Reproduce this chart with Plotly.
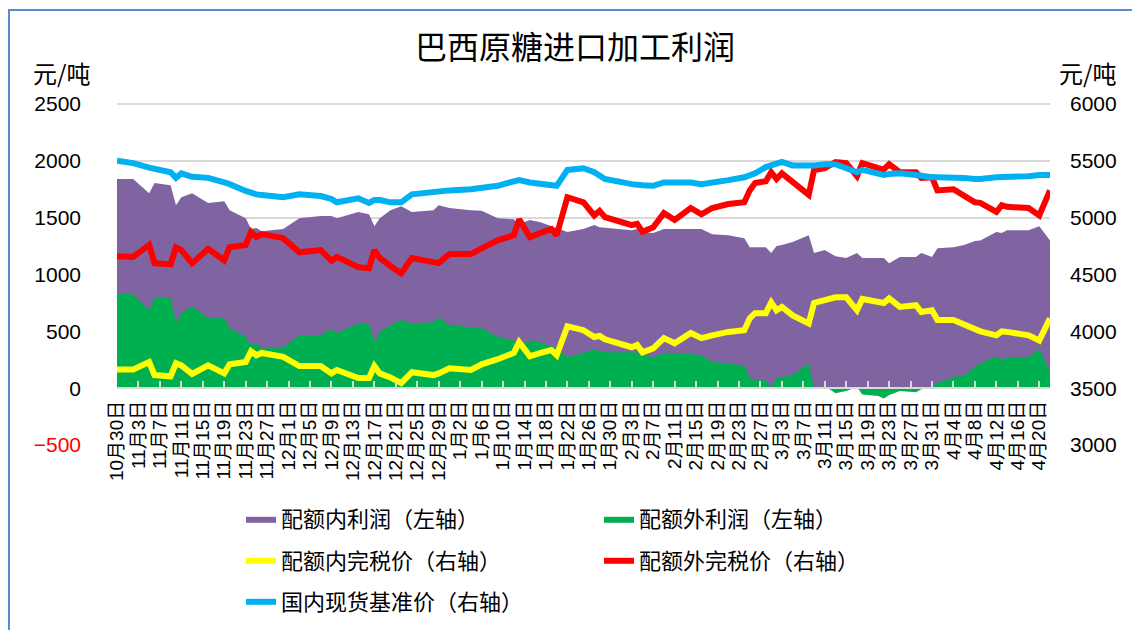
import plotly.graph_objects as go

# ---------------- data ----------------
dates = [
    "2018-10-30", "2018-11-02", "2018-11-05", "2018-11-06", "2018-11-09", "2018-11-10",
    "2018-11-11", "2018-11-13", "2018-11-16", "2018-11-19", "2018-11-20", "2018-11-23",
    "2018-11-24", "2018-11-25", "2018-11-26", "2018-11-30", "2018-12-03", "2018-12-07",
    "2018-12-09", "2018-12-10", "2018-12-14", "2018-12-16", "2018-12-17", "2018-12-18",
    "2018-12-20", "2018-12-22", "2018-12-24", "2018-12-28", "2018-12-29", "2018-12-31",
    "2019-01-04", "2019-01-06", "2019-01-09", "2019-01-12", "2019-01-13", "2019-01-15",
    "2019-01-17", "2019-01-19", "2019-01-20", "2019-01-22", "2019-01-25", "2019-01-27",
    "2019-01-28", "2019-01-29", "2019-02-03", "2019-02-04", "2019-02-05", "2019-02-07",
    "2019-02-09", "2019-02-11", "2019-02-14", "2019-02-16", "2019-02-18", "2019-02-21",
    "2019-02-24", "2019-02-25", "2019-02-26", "2019-02-28", "2019-03-01", "2019-03-02",
    "2019-03-03", "2019-03-05", "2019-03-08", "2019-03-09", "2019-03-11", "2019-03-13",
    "2019-03-15", "2019-03-17", "2019-03-18", "2019-03-21", "2019-03-22", "2019-03-23",
    "2019-03-25", "2019-03-28", "2019-03-29", "2019-03-31", "2019-04-01", "2019-04-04",
    "2019-04-06", "2019-04-08", "2019-04-09", "2019-04-12", "2019-04-13", "2019-04-14",
    "2019-04-18", "2019-04-20", "2019-04-22",
]

# 配额内利润（左轴）
in_quota_profit = [
    1840, 1840, 1715, 1805, 1785, 1610, 1680, 1715, 1630, 1645, 1565, 1495,
    1400, 1410, 1380, 1400, 1495, 1515, 1515, 1495, 1550, 1530, 1425, 1495,
    1565, 1600, 1550, 1565, 1610, 1585, 1565, 1560, 1495, 1485, 1445, 1480,
    1460, 1425, 1410, 1375, 1400, 1435, 1415, 1410, 1390, 1400, 1375, 1365,
    1400, 1400, 1400, 1400, 1355, 1345, 1320, 1240, 1240, 1240, 1190, 1250,
    1260, 1285, 1345, 1190, 1215, 1160, 1145, 1190, 1145, 1145, 1145, 1100,
    1155, 1155, 1190, 1155, 1230, 1240, 1260, 1295, 1300, 1375, 1365, 1390,
    1390, 1425, 1300,
]

# 配额外利润（左轴）
out_quota_profit = [
    835, 825, 685, 800, 790, 580, 660, 720, 615, 615, 530, 450,
    380, 395, 350, 360, 465, 465, 520, 485, 570, 570, 405, 495,
    555, 600, 570, 580, 625, 555, 535, 530, 450, 420, 380, 420,
    405, 370, 350, 275, 310, 345, 325, 315, 315, 315, 290, 275,
    310, 310, 300, 290, 230, 220, 195, 90, 70, 70, 0, 95,
    95, 115, 220, 0, 20, -45, -25, 10, -55, -70, -90, -60,
    -25, -35, -10, 0, 45, 95, 115, 185, 220, 280, 245, 275,
    275, 345, 140,
]

# 配额内完税价（右轴）
in_quota_price = [
    3665, 3665, 3730, 3615, 3605, 3720, 3700, 3625, 3700, 3630, 3710, 3730,
    3825, 3790, 3810, 3775, 3695, 3695, 3630, 3660, 3590, 3590, 3695, 3630,
    3595, 3545, 3640, 3615, 3630, 3675, 3660, 3710, 3755, 3810, 3905, 3780,
    3810, 3835, 3790, 4045, 4010, 3950, 3960, 3930, 3860, 3880, 3815, 3850,
    3940, 3895, 3985, 3940, 3965, 3995, 4010, 4115, 4160, 4160, 4255, 4185,
    4215, 4140, 4070, 4250, 4275, 4300, 4300, 4185, 4285, 4250, 4250, 4290,
    4215, 4230, 4170, 4185, 4100, 4100, 4055, 4010, 4000, 3965, 4000, 3995,
    3965, 3920, 4115,
]

# 配额外完税价（右轴）
out_quota_price = [
    4660, 4655, 4760, 4600, 4590, 4740, 4715, 4600, 4725, 4625, 4740, 4760,
    4875, 4830, 4855, 4820, 4695, 4715, 4620, 4655, 4565, 4555, 4715, 4645,
    4575, 4510, 4645, 4610, 4600, 4680, 4680, 4730, 4800, 4845, 4985, 4830,
    4865, 4900, 4845, 5180, 5135, 5020, 5060, 5005, 4935, 4945, 4875, 4915,
    5040, 4980, 5085, 5030, 5085, 5120, 5135, 5240, 5305, 5320, 5400, 5340,
    5390, 5315, 5200, 5420, 5435, 5490, 5480, 5365, 5480, 5435, 5425, 5470,
    5400, 5400, 5350, 5355, 5240, 5250, 5190, 5135, 5130, 5050, 5110, 5095,
    5085, 5020, 5240,
]

# 国内现货基准价（右轴）
spot_price = [
    5500, 5480, 5440, 5430, 5400, 5350, 5390, 5360, 5350, 5310, 5295, 5235,
    5215, 5205, 5200, 5180, 5205, 5190, 5165, 5135, 5170, 5130, 5155, 5155,
    5135, 5135, 5205, 5225, 5240, 5240, 5250, 5260, 5280, 5320, 5330, 5310,
    5295, 5280, 5280, 5420, 5435, 5400, 5375, 5340, 5295, 5285, 5285, 5280,
    5310, 5310, 5310, 5295, 5305, 5330, 5355, 5375, 5390, 5445, 5460, 5470,
    5490, 5460, 5455, 5460, 5470, 5470, 5435, 5400, 5420, 5385, 5375, 5385,
    5390, 5375, 5365, 5355, 5355, 5355, 5350, 5340, 5340, 5355, 5355, 5355,
    5365, 5375, 5375,
]

series_names = [
    "配额内利润（左轴）", "配额外利润（左轴）",
    "配额内完税价（右轴）", "配额外完税价（右轴）", "国内现货基准价（右轴）",
]
left_ticks = [-500, 0, 500, 1000, 1500, 2000, 2500]
right_ticks = [3000, 3500, 4000, 4500, 5000, 5500, 6000]
title_text = "巴西原糖进口加工利润"
unit_text = "元/吨"

for s in (in_quota_profit, out_quota_profit, in_quota_price, out_quota_price, spot_price):
    assert len(s) == len(dates), (len(s), len(dates))

# ---------------- styling ----------------
PURPLE, GREEN, YELLOW, RED, BLUE = "#8064A2", "#00B050", "#FFFF00", "#FF0000", "#00B0F0"
GRID = "#D9D9D9"
NUM_FONT = "Liberation Sans, Arial, Noto Sans CJK SC"
CJK_FONT = "Noto Sans CJK SC, Liberation Sans"

# the page body has an 8px margin, so the figure is laid out in screen px minus 8
OFF = 8
W, H = 1140 - OFF, 630 - OFF
TOP_PX = 3                                  # headroom above the 2500 gridline so it is drawn
PLOT_L, PLOT_R, PLOT_T, PLOT_B = 117, 1050, 104 - TOP_PX, 445   # screen pixels
UNITS_PER_PX = (left_ticks[-1] - left_ticks[0]) / (445 - 104)
TOP_PAD = TOP_PX * UNITS_PER_PX
ML, MR, MT, MB = PLOT_L - OFF, W - (PLOT_R - OFF), PLOT_T - OFF, H - (PLOT_B - OFF)
PW, PH = W - ML - MR, H - MT - MB


def px_x(px):  # screen px -> paper x
    return (px - OFF - ML) / PW


def px_y(py):  # screen px -> paper y
    return (H - MB - (py - OFF)) / PH


def cx(px):    # screen px -> container x
    return (px - OFF) / W


def cy(py):    # screen px -> container y
    return 1 - (py - OFF) / H


fig = go.Figure()
fig.add_trace(go.Scatter(x=dates, y=in_quota_profit, name=series_names[0], mode="lines",
                         fill="tozeroy", fillcolor=PURPLE, line=dict(width=0, color=PURPLE),
                         legend="legend"))
fig.add_trace(go.Scatter(x=dates, y=out_quota_profit, name=series_names[1], mode="lines",
                         fill="tozeroy", fillcolor=GREEN, line=dict(width=0, color=GREEN),
                         legend="legend"))
fig.add_trace(go.Scatter(x=dates, y=in_quota_price, name=series_names[2], mode="lines",
                         line=dict(width=6, color=YELLOW), yaxis="y2", legend="legend2"))
fig.add_trace(go.Scatter(x=dates, y=out_quota_price, name=series_names[3], mode="lines",
                         line=dict(width=6, color=RED), yaxis="y2", legend="legend2"))
fig.add_trace(go.Scatter(x=dates, y=spot_price, name=series_names[4], mode="lines",
                         line=dict(width=6, color=BLUE), yaxis="y2", legend="legend3"))

left_text = [("<span style='color:#FF0000'>−500</span>" if v < 0 else str(v)) for v in left_ticks]

legend_common = dict(orientation="h", xref="container", yref="container",
                     xanchor="left", yanchor="middle", bgcolor="rgba(0,0,0,0)",
                     font=dict(family=CJK_FONT, size=22, color="#000000"),
                     entrywidthmode="pixels", entrywidth=313, itemwidth=30)

y_range = [left_ticks[0], left_ticks[-1] + TOP_PAD]
y2_range = [right_ticks[0], right_ticks[-1] + TOP_PAD]

fig.update_layout(
    template="none",
    width=W, height=H,
    margin=dict(l=ML, r=MR, t=MT, b=MB, pad=0, autoexpand=False),
    paper_bgcolor="white", plot_bgcolor="white",
    title=dict(text=title_text, x=cx(575), xanchor="center", xref="container",
               y=cy(48), yanchor="middle", yref="container",
               font=dict(family=CJK_FONT, size=32, color="#000000")),
    xaxis=dict(type="date", range=["2018-10-30", "2019-04-22"],
               tickmode="linear", tick0="2018-10-30", dtick=4 * 86400000,
               tickformat="%-m月%-d日", tickangle=-90,
               tickfont=dict(family=NUM_FONT, size=19, color="#000000"),
               anchor="free", position=(0 - y_range[0]) / (y_range[1] - y_range[0]),
               showline=True, linecolor=GRID, linewidth=2,
               ticks="inside", ticklen=6, tickcolor=GRID, tickwidth=2,
               showgrid=False, zeroline=False, ticklabelstandoff=4, automargin=False),
    yaxis=dict(range=y_range, tickmode="array",
               tickvals=left_ticks, ticktext=left_text,
               tickfont=dict(family=NUM_FONT, size=21, color="#000000"),
               showgrid=True, gridcolor=GRID, gridwidth=2, zeroline=False,
               showline=False, ticks="", ticklabelstandoff=35, automargin=False),
    yaxis2=dict(range=y2_range, tickmode="array",
                tickvals=right_ticks, ticktext=[str(v) for v in right_ticks],
                overlaying="y", side="right",
                tickfont=dict(family=NUM_FONT, size=21, color="#000000"),
                showgrid=False, zeroline=False, showline=False, ticks="",
                ticklabelstandoff=19, automargin=False),
    legend=dict(x=cx(241), y=cy(519), **legend_common),
    legend2=dict(x=cx(241), y=cy(561), **legend_common),
    legend3=dict(x=cx(241), y=cy(602), **legend_common),
    showlegend=True,
)

fig.add_annotation(text=unit_text, xref="paper", yref="paper", x=px_x(61), y=px_y(72),
                   showarrow=False, xanchor="center", yanchor="middle",
                   font=dict(family=CJK_FONT, size=24, color="#000000"))
fig.add_annotation(text=unit_text, xref="paper", yref="paper", x=px_x(1087), y=px_y(72),
                   showarrow=False, xanchor="center", yanchor="middle",
                   font=dict(family=CJK_FONT, size=24, color="#000000"))

# outer chart frame (blue border on left/top)
fig.add_shape(type="rect", xref="paper", yref="paper",
              x0=px_x(9), x1=px_x(1160), y0=px_y(650), y1=px_y(10),
              line=dict(color="#5B8BC9", width=2), fillcolor="rgba(0,0,0,0)", layer="above")

fig.write_html("out.html")
